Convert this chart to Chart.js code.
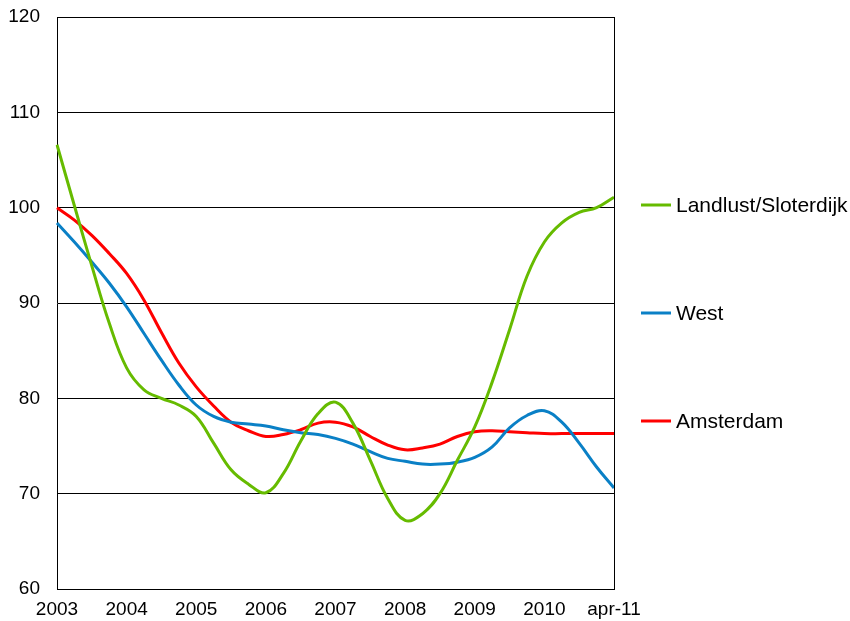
<!DOCTYPE html>
<html lang="nl">
<head>
    <meta charset="UTF-8">
    <title>Landlust/Sloterdijk, West, Amsterdam</title>
    <script src="https://cdn.jsdelivr.net/npm/chart.js"></script>
    <style>
        body { margin: 0; background: #fff; }
        #wrap { width: 850px; height: 621px; }
    </style>
</head>
<body>

<div id="wrap"><canvas id="lineChart"></canvas></div>

<script>
    // one point per quarter, last point is april 2011
    const categories = [
        '2003-1', '2003-2', '2003-3', '2003-4',
        '2004-1', '2004-2', '2004-3', '2004-4',
        '2005-1', '2005-2', '2005-3', '2005-4',
        '2006-1', '2006-2', '2006-3', '2006-4',
        '2007-1', '2007-2', '2007-3', '2007-4',
        '2008-1', '2008-2', '2008-3', '2008-4',
        '2009-1', '2009-2', '2009-3', '2009-4',
        '2010-1', '2010-2', '2010-3', '2010-4',
        'apr-11'
    ];
    const tickLabels = ['2003', '2004', '2005', '2006', '2007', '2008', '2009', '2010', 'apr-11'];

    const landlust = [
        106.6, 100.2, 93.9, 87.9, 83.2, 80.9, 80.0, 79.3,
        78.1, 75.3, 72.5, 71.0, 70.1, 72.1, 75.5, 78.4,
        79.6, 77.4, 73.5, 69.5, 67.2, 67.9, 70.0, 73.5,
        77.0, 81.7, 87.2, 92.8, 96.4, 98.4, 99.5, 100.0,
        101.1
    ];
    const west = [
        98.4, 96.4, 94.3, 92.1, 89.6, 86.8, 84.0, 81.4,
        79.3, 78.1, 77.5, 77.3, 77.1, 76.7, 76.4, 76.2,
        75.8, 75.2, 74.4, 73.7, 73.4, 73.1, 73.1, 73.3,
        73.8, 74.9, 76.9, 78.2, 78.7, 77.5, 75.3, 72.8,
        70.6
    ];
    const amsterdam = [
        100.0, 98.7, 97.1, 95.2, 93.1, 90.3, 86.9, 83.7,
        81.2, 79.2, 77.5, 76.6, 76.0, 76.2, 76.7, 77.4,
        77.5, 77.0, 76.0, 75.1, 74.6, 74.8, 75.2, 76.0,
        76.5, 76.6, 76.5, 76.4, 76.3, 76.3, 76.3, 76.3,
        76.3
    ];

    const family = 'Arial, "Liberation Sans", sans-serif';
    const tickFont = { family: family, size: 19 };
    const legendSize = 21;

    // fixed axis sizes so the plot lands where the original has it
    const fitX = (scale) => {
        scale.paddingLeft = 0;
        scale.paddingRight = 0;
        scale.height = 32;
    };
    const fitY = (scale) => {
        scale.paddingTop = 0;
        scale.paddingBottom = 0;
        scale.width = 49;
    };

    // right-hand frame line and the legend next to the plot
    const sidePlugin = {
        id: 'side',
        afterDraw(chart) {
            const ctx = chart.ctx;
            const area = chart.chartArea;
            ctx.save();
            ctx.strokeStyle = '#000';
            ctx.lineWidth = 1;
            ctx.beginPath();
            ctx.moveTo(Math.round(area.right) + 0.5, area.top);
            ctx.lineTo(Math.round(area.right) + 0.5, area.bottom);
            ctx.stroke();

            const midY = (area.top + area.bottom) / 2 + 10;
            ctx.font = legendSize + 'px ' + family;
            ctx.textBaseline = 'middle';
            ctx.fillStyle = '#000';
            chart.data.datasets.forEach((ds, i) => {
                const y = midY + (i - 1) * 108;
                const x = area.right + 27;
                ctx.strokeStyle = ds.borderColor;
                ctx.lineWidth = 3;
                ctx.beginPath();
                ctx.moveTo(x, y);
                ctx.lineTo(x + 30, y);
                ctx.stroke();
                ctx.fillText(ds.label, x + 35, y + 1);
            });
            ctx.restore();
        }
    };

    const ctx = document.getElementById('lineChart').getContext('2d');
    new Chart(ctx, {
        type: 'line',
        data: {
            labels: categories,
            datasets: [
                { label: 'Landlust/Sloterdijk', data: landlust, borderColor: '#66BB00' },
                { label: 'West', data: west, borderColor: '#0A80C6' },
                { label: 'Amsterdam', data: amsterdam, borderColor: '#FF0000' }
            ]
        },
        options: {
            responsive: true,
            maintainAspectRatio: false,
            animation: false,
            datasets: {
                line: { borderWidth: 3, pointRadius: 0, tension: 0.4, fill: false }
            },
            layout: { padding: { left: 8, right: 236, top: 17, bottom: 0 } },
            plugins: {
                legend: { display: false },
                tooltip: { enabled: false }
            },
            scales: {
                x: {
                    afterFit: fitX,
                    grid: { display: false, drawTicks: false },
                    border: { display: true, color: '#000', width: 1 },
                    ticks: {
                        color: '#000',
                        font: tickFont,
                        padding: 9,
                        autoSkip: false,
                        maxRotation: 0,
                        callback: (value, index) => index % 4 === 0 ? tickLabels[index / 4] : ''
                    }
                },
                y: {
                    afterFit: fitY,
                    min: 60,
                    max: 120,
                    grid: { color: '#000', lineWidth: 1, drawTicks: false },
                    border: { display: true, color: '#000', width: 1 },
                    ticks: { stepSize: 10, color: '#000', font: tickFont, padding: 17 }
                }
            }
        },
        plugins: [sidePlugin]
    });
</script>

</body>
</html>
